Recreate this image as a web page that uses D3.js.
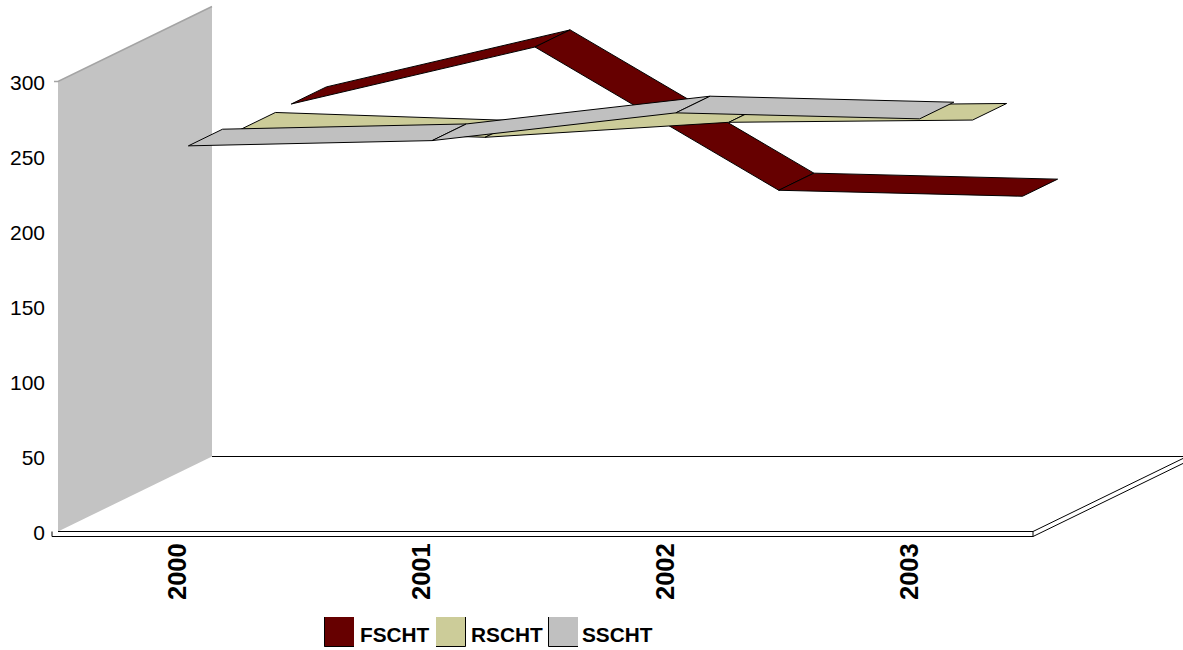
<!DOCTYPE html>
<html><head><meta charset="utf-8">
<script src="https://cdn.jsdelivr.net/npm/d3@7"></script>
<style>html,body{margin:0;padding:0;background:#fff}svg{display:block}text{font-family:"Liberation Sans",Arial,sans-serif;fill:#000}</style>
</head><body><svg id="c" width="1183" height="650"></svg>
<script>
const categories = ["2000","2001","2002","2003"];
const seriesNames = ["FSCHT","RSCHT","SSCHT"];
const FSCHT = [249,287,191.5,187.5];
const RSCHT = [248.5,243,253,254.5];
const SSCHT = [254.5,258,276.5,272.5];
const yTicks = [0,50,100,150,200,250,300];
const seriesColors = ["#660000","#cccc99","#c0c0c0"];

const svg = d3.select("#c");
const x = d3.scaleBand().domain(categories).range([58,1033]);
const y = d3.scaleLinear().domain([0,300]).range([531.5,81.5]);
const depthX = 154, depthY = -75;
const depthBands = {FSCHT:[0.72,0.948],RSCHT:[0.396,0.617],SSCHT:[0.052,0.274]};
const px = (c,d)=>x(c)+x.bandwidth()/2+0.5+d*depthX;
const py = (v,d)=>y(v)+d*depthY;
const line = d3.line();

// wall
const wall = [[58,y(300)],[58+depthX,y(300)+depthY],[58+depthX,y(0)+depthY],[58,y(0)]];
svg.append("path").attr("d",line(wall)+"Z").attr("fill","#c3c3c3");
svg.append("path").attr("d",line([[54,y(300)],[58,y(300)],[58+depthX,y(300)+depthY]])).attr("fill","none").attr("stroke","#a4a4a4").attr("stroke-width",1.5);

// floor
const fy=y(0), th=5, fr=x.range()[1];
svg.append("path").attr("d",line([[58+depthX,fy+depthY],[fr+depthX,fy+depthY]])).attr("stroke","#000").attr("fill","none");
svg.append("path").attr("d",line([[58,fy],[fr,fy],[fr+depthX,fy+depthY]])).attr("stroke","#000").attr("fill","none");
svg.append("path").attr("d",line([[52,fy],[52,fy+th],[fr,fy+th],[fr+depthX,fy+th+depthY]])).attr("stroke","#000").attr("fill","none");
svg.append("path").attr("d",line([[fr,fy],[fr,fy+th]])).attr("stroke","#000").attr("fill","none");

// ribbons
[FSCHT,RSCHT,SSCHT].forEach((vals,i)=>{
  const [d0,d1]=depthBands[seriesNames[i]];
  const segs=d3.pairs(vals.map((v,j)=>[categories[j],v]));
  svg.append("g").selectAll("path").data(segs).join("path")
    .attr("d",([a,b])=>line([[px(a[0],d0),py(a[1],d0)],[px(a[0],d1),py(a[1],d1)],[px(b[0],d1),py(b[1],d1)],[px(b[0],d0),py(b[1],d0)]])+"Z")
    .attr("fill",seriesColors[i]).attr("stroke","#000").attr("stroke-width",1).attr("stroke-linejoin","bevel");
});

// y axis
const ax = svg.append("g").attr("transform","translate(52,1.5)").call(d3.axisLeft(y).tickValues(yTicks).tickSize(0).tickPadding(7));
ax.select(".domain").remove();
ax.selectAll("text").style("font-size","21px").style("font-family",'"Liberation Sans",Arial,sans-serif');

// x labels
svg.append("g").selectAll("text").data(categories).join("text")
  .attr("transform",d=>`translate(${x(d)+x.bandwidth()/2+6.5},600) rotate(-90)`)
  .attr("font-size",25.5).attr("font-weight","bold").text(d=>d);

// legend
const legX=[324,436,548], legT=[360,471,582];
seriesNames.forEach((n,i)=>{
  svg.append("rect").attr("x",legX[i]).attr("y",617).attr("width",30).attr("height",29.5).attr("fill",seriesColors[i]);
  const sx=i===1?legX[i]+29.5:legX[i]+0.5;
  svg.append("path").attr("d",line([[sx,617],[sx,646.5],[i===1?legX[i]:legX[i]+30,646.5]])).attr("fill","none").attr("stroke","#000");
  svg.append("text").attr("x",legT[i]).attr("y",642).attr("font-size",20.8).attr("font-weight","bold").text(n);
});
</script></body></html>
